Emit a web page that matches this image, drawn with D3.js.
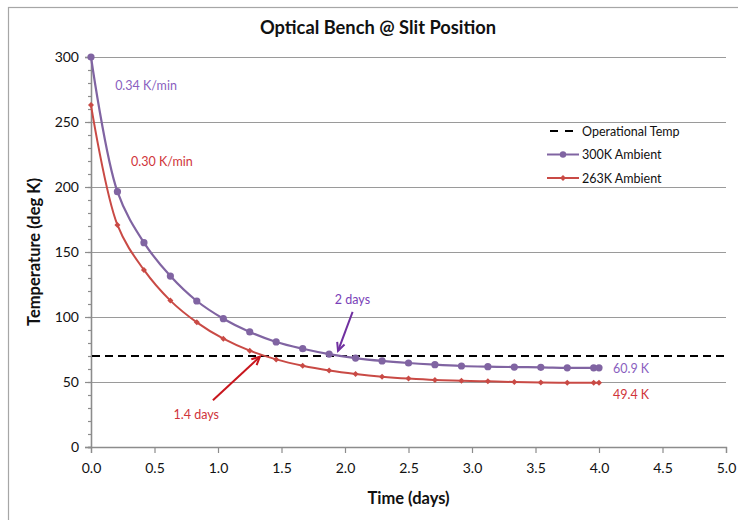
<!DOCTYPE html>
<html>
<head>
<meta charset="utf-8">
<script src="https://cdn.jsdelivr.net/npm/d3@7"></script>
<style>
    body { margin: 0; background: #fff; }
    #chart { width: 738px; height: 520px; }
    text { font-family: Lato, "Open Sans", sans-serif; }
</style>
</head>
<body>
<div id="chart"></div>
<script>
// time in days, one sample every 5 hours, plus the 4.0 day end point
var time_days = [0, 0.208, 0.417, 0.625, 0.833, 1.042, 1.25, 1.458, 1.667, 1.875,
                 2.083, 2.292, 2.5, 2.708, 2.917, 3.125, 3.333, 3.542, 3.75, 3.958, 4.0];

var temp_300k = [300, 196.4, 157.2, 131.5, 112.3, 98.7, 88.5, 80.8, 75.6, 71.5,
                 68.4, 66.2, 64.6, 63.3, 62.3, 61.8, 61.5, 61.3, 60.9, 60.9, 60.9];

var temp_263k = [263, 170.8, 136.2, 112.6, 95.9, 83.3, 74.1, 67.4, 62.5, 58.9,
                 56.2, 54.1, 52.6, 51.5, 51.0, 50.5, 50.0, 49.6, 49.4, 49.4, 49.4];

var operational_temp = 70;

var series_names = ["Operational Temp", "300K Ambient", "263K Ambient"];

var x_ticks = [0, 0.5, 1, 1.5, 2, 2.5, 3, 3.5, 4, 4.5, 5];
var y_ticks = [0, 50, 100, 150, 200, 250, 300];

// annotations, in data units (days, K)
var notes = [
    { text: "0.34 K/min", x: 0.19, y: 274.5, cls: "purple_text" },
    { text: "0.30 K/min", x: 0.315, y: 216, cls: "red_text" },
    { text: "1.4 days", x: 0.65, y: 21.5, cls: "red_text" },
    { text: "2 days", x: 1.92, y: 110, cls: "purple_dark" },
    { text: "60.9 K", x: 4.11, y: 57, cls: "purple_text" },
    { text: "49.4 K", x: 4.11, y: 37, cls: "red_text" }
];

var arrows = [
    { from: [0.96, 36], to: [1.33, 69.5], color: "#c8161d" },
    { from: [2.06, 104], to: [1.945, 74], color: "#7030a0" }
];

var purple = "#8064a2",
    red = "#c94a45";

var full_width = 738,
    full_height = 520;

var margin = { top: 57, right: 12, bottom: 73, left: 91 };
var width = full_width - margin.left - margin.right;   // 635
var height = full_height - margin.top - margin.bottom; // 390

var x = d3.scaleLinear().domain([0, 5]).range([0, width]);
var y = d3.scaleLinear().domain([0, 300]).range([height, 0]);

var svg = d3.select("#chart")
    .append("svg")
    .attr("width", full_width)
    .attr("height", full_height);

// chart area frame (cut off right and bottom like the screenshot)
svg.append("rect")
    .attr("x", 8.5).attr("y", 7.5)
    .attr("width", 800).attr("height", 600)
    .attr("fill", "none")
    .attr("stroke", "#a6a6a6")
    .attr("stroke-width", 1.2);

var g = svg.append("g")
    .attr("transform", "translate(" + margin.left + "," + margin.top + ")");

// gridlines
g.selectAll(".grid")
    .data(y_ticks.filter(function(d) { return d > 0; }))
    .enter().append("line")
    .attr("x1", 0).attr("x2", width)
    .attr("y1", function(d) { return Math.round(y(d)) + 0.5; })
    .attr("y2", function(d) { return Math.round(y(d)) + 0.5; })
    .attr("stroke", "#9a9a9a")
    .attr("stroke-width", 1.2);

// Y Axis with minor ticks
var yMinor = g.append("g")
    .call(d3.axisLeft(y).tickValues(d3.range(0, 301, 10)).tickSize(3).tickFormat(""));
var yAxis = g.append("g")
    .call(d3.axisLeft(y).tickValues(y_ticks).tickSize(6).tickPadding(6));

// X Axis
var xAxis = g.append("g")
    .attr("transform", "translate(0," + height + ")")
    .call(d3.axisBottom(x).tickValues(x_ticks).tickSize(6).tickPadding(10)
        .tickFormat(d3.format(".1f")));

[yMinor, yAxis, xAxis].forEach(function(ax) {
    ax.select(".domain").attr("stroke", "#8c8c8c").attr("stroke-width", 1.3);
    ax.selectAll(".tick line").attr("stroke", "#8c8c8c").attr("stroke-width", 1.2);
    ax.selectAll(".tick text")
        .attr("fill", "#111")
        .style("font-size", "14px")
        .style("font-family", "Lato, sans-serif");
});

// operational temperature line
g.append("line")
    .attr("x1", 1).attr("x2", width)
    .attr("y1", y(operational_temp)).attr("y2", y(operational_temp))
    .attr("stroke", "#000")
    .attr("stroke-width", 2)
    .attr("stroke-dasharray", "8,5");

var line = d3.line()
    .x(function(d) { return x(d[0]); })
    .y(function(d) { return y(d[1]); })
    .curve(d3.curveCatmullRom.alpha(0.5));

var purple_pts = time_days.map(function(t, i) { return [t, temp_300k[i]]; });
var red_pts = time_days.map(function(t, i) { return [t, temp_263k[i]]; });

g.append("path")
    .datum(purple_pts)
    .attr("d", line)
    .attr("fill", "none")
    .attr("stroke", purple)
    .attr("stroke-width", 2.2);

g.append("path")
    .datum(red_pts)
    .attr("d", line)
    .attr("fill", "none")
    .attr("stroke", red)
    .attr("stroke-width", 2);

var diamond = d3.symbol().type(d3.symbolSquare).size(18);

g.selectAll(".dot_red")
    .data(red_pts)
    .enter().append("path")
    .attr("d", diamond)
    .attr("transform", function(d) { return "translate(" + x(d[0]) + "," + y(d[1]) + ") rotate(45)"; })
    .attr("fill", red);

g.selectAll(".dot_purple")
    .data(purple_pts)
    .enter().append("circle")
    .attr("cx", function(d) { return x(d[0]); })
    .attr("cy", function(d) { return y(d[1]); })
    .attr("r", 3.6)
    .attr("fill", purple);

// annotations
var note_colors = { purple_text: "#8a5fc0", purple_dark: "#7a3fb8", red_text: "#d0343a" };

g.selectAll(".note")
    .data(notes)
    .enter().append("text")
    .attr("x", function(d) { return x(d.x); })
    .attr("y", function(d) { return y(d.y); })
    .attr("fill", function(d) { return note_colors[d.cls]; })
    .style("font-size", "12.5px")
    .text(function(d) { return d.text; });

// arrows
arrows.forEach(function(a) {
    var x1 = x(a.from[0]), y1 = y(a.from[1]),
        x2 = x(a.to[0]), y2 = y(a.to[1]);
    var ang = Math.atan2(y2 - y1, x2 - x1);
    g.append("line")
        .attr("x1", x1).attr("y1", y1)
        .attr("x2", x2).attr("y2", y2)
        .attr("stroke", a.color)
        .attr("stroke-width", 2);
    var head = 9, spread = 0.45;
    g.append("path")
        .attr("d", "M" + (x2 - head * Math.cos(ang - spread)) + "," + (y2 - head * Math.sin(ang - spread))
            + "L" + x2 + "," + y2
            + "L" + (x2 - head * Math.cos(ang + spread)) + "," + (y2 - head * Math.sin(ang + spread)))
        .attr("fill", "none")
        .attr("stroke", a.color)
        .attr("stroke-width", 2);
});

// legend
var legend = svg.append("g").attr("transform", "translate(547,131)");
var legend_rows = legend.selectAll(".row")
    .data(series_names)
    .enter().append("g")
    .attr("transform", function(d, i) { return "translate(0," + (i * 23.5) + ")"; });

legend_rows.each(function(d, i) {
    var row = d3.select(this);
    if (i === 0) {
        row.append("line")
            .attr("x1", 0).attr("x2", 30).attr("y1", 0).attr("y2", 0)
            .attr("stroke", "#000").attr("stroke-width", 2)
            .attr("stroke-dasharray", "8,7").attr("stroke-dashoffset", -3);
    } else {
        var c = i === 1 ? purple : red;
        row.append("line")
            .attr("x1", 0).attr("x2", 32).attr("y1", 0).attr("y2", 0)
            .attr("stroke", c).attr("stroke-width", 2);
        if (i === 1) {
            row.append("circle").attr("cx", 16).attr("cy", 0).attr("r", 3.2).attr("fill", c);
        } else {
            row.append("path").attr("d", diamond)
                .attr("transform", "translate(16,0) rotate(45)").attr("fill", c);
        }
    }
    row.append("text")
        .attr("x", 35).attr("y", 4.5)
        .attr("fill", "#111")
        .style("font-size", "12.5px")
        .text(d);
});

// Title
svg.append("text")
    .attr("x", 378).attr("y", 34)
    .style("text-anchor", "middle")
    .style("font-size", "18.3px")
    .style("font-weight", "bold")
    .attr("fill", "#111")
    .text("Optical Bench @ Slit Position");

// X Axis label
svg.append("text")
    .attr("x", margin.left + width / 2).attr("y", 504)
    .style("text-anchor", "middle")
    .style("font-size", "16.5px")
    .style("font-weight", "bold")
    .attr("fill", "#111")
    .text("Time (days)");

// Y Axis label
svg.append("text")
    .attr("transform", "translate(40," + (margin.top + height / 2) + ") rotate(-90)")
    .style("text-anchor", "middle")
    .style("font-size", "16.5px")
    .style("font-weight", "bold")
    .attr("fill", "#111")
    .text("Temperature (deg K)");
</script>
</body>
</html>
